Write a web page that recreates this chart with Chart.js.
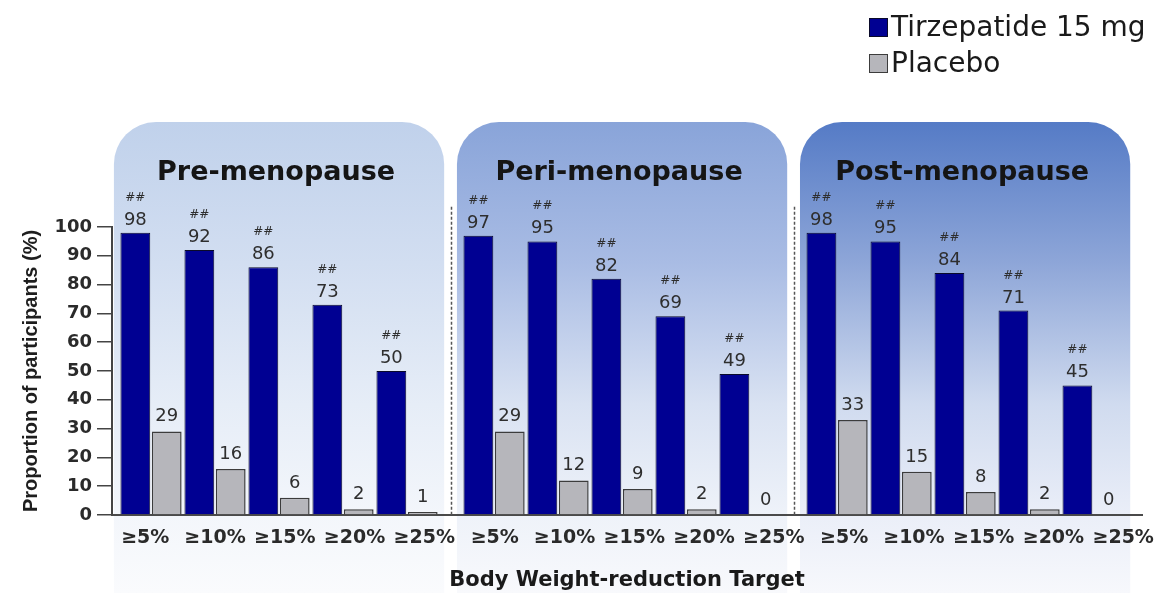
<!DOCTYPE html>
<html>
<head>
<meta charset="utf-8">
<script src="https://cdn.jsdelivr.net/npm/chart.js@4.4.1/dist/chart.umd.min.js"></script>
<style>
  html, body { margin: 0; padding: 0; background: #fff; }
  #wrap { width: 1173px; height: 593px; }
</style>
</head>
<body>
<div id="wrap"><canvas id="weight-chart" width="1173" height="593"></canvas></div>
<script>
var panels = ['Pre-menopause', 'Peri-menopause', 'Post-menopause'];
var targets = ['≥5%', '≥10%', '≥15%', '≥20%', '≥25%'];

var tirzPre = [98, 92, 86, 73, 50];
var tirzPeri = [97, 95, 82, 69, 49];
var tirzPost = [98, 95, 84, 71, 45];

var placeboPre = [29, 16, 6, 2, 1];
var placeboPeri = [29, 12, 9, 2, 0];
var placeboPost = [33, 15, 8, 2, 0];

// p-value markers printed over the tirzepatide bars
var sigPre = ['##', '##', '##', '##', '##'];
var sigPeri = ['##', '##', '##', '##', '##'];
var sigPost = ['##', '##', '##', '##', '##'];

var yTicks = [0, 10, 20, 30, 40, 50, 60, 70, 80, 90, 100];

// x layout, in category units
var PANEL_STEP = 5.36;
var LABEL_PANEL_STEP = 5.46;
var LABEL_STEP = 1.09;

// gradient stops for each panel, top to bottom
var panelStops = [0, 0.3, 0.6, 0.83, 1];
var panelFills = [
    ['#c0d1eb', '#d2def1', '#e6edf7', '#f3f6fb', '#fafbfd'],
    ['#89a4d9', '#a9bce4', '#d9e2f2', '#eef2f9', '#f8f9fc'],
    ['#557bc6', '#8ea6d8', '#d0dbef', '#eaeef8', '#f7f8fc']
];

var toPoints = function(series) {
    var points = [];
    series.forEach(function(values, p) {
        values.forEach(function(v, i) {
            points.push({ x: p * PANEL_STEP + i, y: v });
        });
    });
    return points;
};

var flatten = function(lists) {
    return lists.reduce(function(all, l) { return all.concat(l); }, []);
};

var tickValues = [];
var tickLabels = [];
panels.forEach(function(name, p) {
    targets.forEach(function(t, i) {
        tickValues.push(p * LABEL_PANEL_STEP + i * LABEL_STEP - 0.09);
        tickLabels.push(t);
    });
});

var roundTopRect = function(ctx, x, y, w, h, r) {
    ctx.beginPath();
    ctx.moveTo(x, y + h);
    ctx.lineTo(x, y + r);
    ctx.arcTo(x, y, x + r, y, r);
    ctx.lineTo(x + w - r, y);
    ctx.arcTo(x + w, y, x + w, y + r, r);
    ctx.lineTo(x + w, y + h);
    ctx.closePath();
};

var panelPlugin = {
    id: 'panels',
    beforeDraw: function(chart) {
        var ctx = chart.ctx;
        var xs = chart.scales.x;
        var top = 122;
        ctx.save();
        ctx.fillStyle = '#ffffff';
        ctx.fillRect(0, 0, chart.width, chart.height);
        panels.forEach(function(name, p) {
            var left = xs.getPixelForValue(p * PANEL_STEP - 0.58);
            var right = xs.getPixelForValue(p * PANEL_STEP + 4.58);
            var grad = ctx.createLinearGradient(0, top, 0, chart.height);
            panelStops.forEach(function(s, k) {
                grad.addColorStop(s, panelFills[p][k]);
            });
            ctx.fillStyle = grad;
            roundTopRect(ctx, left, top, right - left, chart.height - top, 42);
            ctx.fill();

            ctx.fillStyle = '#151515';
            ctx.font = 'bold 27px "DejaVu Sans"';
            ctx.textAlign = 'center';
            ctx.textBaseline = 'alphabetic';
            ctx.fillText(name, (left + right) / 2 - 3, 180);
        });
        ctx.restore();
    },
    beforeDatasetsDraw: function(chart) {
        var ctx = chart.ctx;
        var xs = chart.scales.x;
        var ys = chart.scales.y;
        ctx.save();
        ctx.strokeStyle = '#555';
        ctx.lineWidth = 1.5;
        ctx.setLineDash([3, 2]);
        for (var p = 0; p < panels.length - 1; p++) {
            var x = Math.round(xs.getPixelForValue(p * PANEL_STEP + 4.68)) + 0.5;
            ctx.beginPath();
            ctx.moveTo(x, ys.getPixelForValue(107));
            ctx.lineTo(x, ys.getPixelForValue(0));
            ctx.stroke();
        }
        ctx.restore();
    },
    afterDatasetsDraw: function(chart) {
        var ctx = chart.ctx;
        ctx.save();
        ctx.fillStyle = '#2e2e2e';
        ctx.textAlign = 'center';
        ctx.textBaseline = 'alphabetic';
        chart.data.datasets.forEach(function(ds, di) {
            var meta = chart.getDatasetMeta(di);
            meta.data.forEach(function(bar, i) {
                var base = bar.y - (di === 0 ? 8 : 10);
                ctx.font = '18px "DejaVu Sans"';
                ctx.fillText(String(ds.data[i].y), bar.x, base);
                if (ds.marks) {
                    ctx.font = '12px "DejaVu Sans"';
                    ctx.fillText(ds.marks[i], bar.x, base - 24);
                }
            });
        });
        ctx.restore();
    },
    afterDraw: function(chart) {
        var ctx = chart.ctx;
        ctx.save();
        ctx.font = '28px "DejaVu Sans"';
        ctx.textAlign = 'left';
        ctx.textBaseline = 'alphabetic';
        chart.data.datasets.forEach(function(ds, i) {
            var y = 18 + i * 36;
            ctx.fillStyle = ds.backgroundColor;
            ctx.fillRect(869, y, 19, 19);
            ctx.strokeStyle = ds.borderColor;
            ctx.lineWidth = 1;
            ctx.strokeRect(869.5, y + 0.5, 18, 18);
            ctx.fillStyle = '#1a1a1a';
            ctx.fillText(ds.label, 891, y + 18);
        });
        ctx.restore();
    }
};

var ctx = document.getElementById('weight-chart').getContext('2d');
var chart = new Chart(ctx, {
    type: 'bar',
    data: {
        datasets: [{
            label: 'Tirzepatide 15 mg',
            data: toPoints([tirzPre, tirzPeri, tirzPost]),
            marks: flatten([sigPre, sigPeri, sigPost]),
            backgroundColor: '#000092',
            borderColor: '#0a0a2a',
            borderWidth: 1
        }, {
            label: 'Placebo',
            data: toPoints([placeboPre, placeboPeri, placeboPost]),
            backgroundColor: '#b6b6bb',
            borderColor: '#3c3c3c',
            borderWidth: 1.5
        }]
    },
    options: {
        responsive: false,
        animation: false,
        categoryPercentage: 0.98,
        barPercentage: 0.95,
        layout: { padding: { top: 227, right: 31, left: 0, bottom: 0 } },
        plugins: {
            legend: { display: false },
            tooltip: { enabled: false }
        },
        scales: {
            x: {
                type: 'linear',
                min: -0.61,
                max: 15.484,
                bounds: 'data',
                offset: false,
                grid: { display: false, drawTicks: false },
                border: { color: '#4a4a4a', width: 2 },
                afterBuildTicks: function(scale) {
                    scale.ticks = tickValues.map(function(v) { return { value: v }; });
                },
                afterFit: function(scale) { scale.height = 78; },
                ticks: {
                    autoSkip: false,
                    maxRotation: 0,
                    padding: 12,
                    color: '#2a2a2a',
                    font: { family: 'DejaVu Sans', weight: 'bold', size: 19 },
                    callback: function(value, index) { return tickLabels[index]; }
                },
                title: {
                    display: true,
                    text: 'Body Weight-reduction Target',
                    color: '#1a1a1a',
                    font: { family: 'DejaVu Sans', weight: 'bold', size: 21 },
                    padding: { bottom: 0 }
                }
            },
            y: {
                min: 0,
                max: 100,
                afterBuildTicks: function(scale) {
                    scale.ticks = yTicks.map(function(v) { return { value: v }; });
                },
                afterFit: function(scale) { scale.width = 112; },
                grid: { drawOnChartArea: false, drawTicks: true, tickLength: 15, color: '#444', lineWidth: 1.5 },
                border: { color: '#444', width: 2 },
                ticks: {
                    padding: 5,
                    color: '#2a2a2a',
                    font: { family: 'DejaVu Sans', weight: 'bold', size: 18 }
                },
                title: {
                    display: true,
                    text: 'Proportion of participants (%)',
                    color: '#1e1e1e',
                    font: { family: 'Liberation Sans', weight: 'bold', size: 20 },
                    padding: { top: 19 }
                }
            }
        }
    },
    plugins: [panelPlugin]
});
</script>
</body>
</html>
